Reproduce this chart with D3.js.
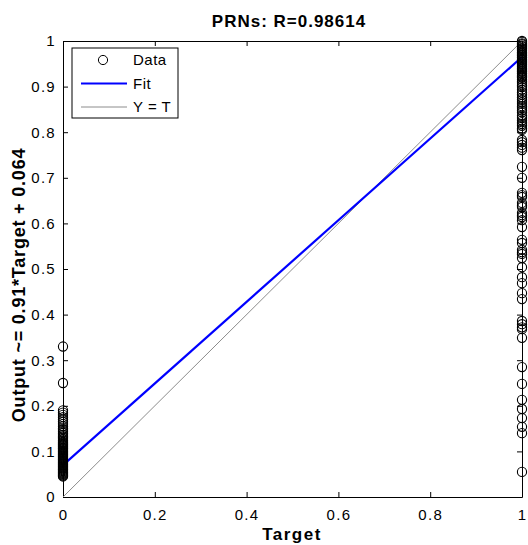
<!DOCTYPE html>
<html>
<head>
<meta charset="utf-8">
<script src="https://cdn.jsdelivr.net/npm/d3@7"></script>
<style>
  body { margin: 0; background: #fff; }
  text { font-family: Arial, "Liberation Sans", sans-serif; }
</style>
</head>
<body>
<div id="chart"></div>
<script>
// outputs where target = 0
const outputsAtZero = [0.33, 0.25, 0.19, 0.185, 0.18, 0.175, 0.17, 0.165, 0.16, 0.155, 0.15, 0.147,
  0.143, 0.14, 0.136, 0.133, 0.13, 0.127, 0.124, 0.121, 0.119, 0.117, 0.115, 0.113, 0.111, 0.109,
  0.107, 0.105, 0.103, 0.101, 0.099, 0.097, 0.095, 0.093, 0.091, 0.089, 0.087, 0.085, 0.083, 0.081,
  0.079, 0.077, 0.075, 0.073, 0.071, 0.069, 0.067, 0.065, 0.063, 0.061, 0.059, 0.057, 0.055, 0.053,
  0.051, 0.049, 0.047, 0.045];
// outputs where target = 1
const outputsAtOne = [1.0, 0.998, 0.995, 0.993, 0.99, 0.988, 0.985, 0.983, 0.98, 0.978, 0.975,
  0.973, 0.97, 0.968, 0.965, 0.963, 0.96, 0.958, 0.955, 0.953, 0.95, 0.948, 0.945, 0.943, 0.94,
  0.938, 0.935, 0.933, 0.93, 0.928, 0.925, 0.922, 0.92, 0.916, 0.912, 0.908, 0.903, 0.899, 0.893,
  0.887, 0.882, 0.876, 0.871, 0.866, 0.862, 0.857, 0.853, 0.848, 0.844, 0.836, 0.831, 0.826, 0.822,
  0.818, 0.814, 0.808, 0.805, 0.783, 0.778, 0.772, 0.766, 0.761, 0.724, 0.7, 0.667, 0.662, 0.658,
  0.645, 0.64, 0.636, 0.623, 0.618, 0.614, 0.607, 0.592, 0.564, 0.557, 0.542, 0.537, 0.533, 0.524,
  0.504, 0.482, 0.469, 0.447, 0.434, 0.386, 0.379, 0.372, 0.368, 0.349, 0.285, 0.248, 0.213,
  0.193, 0.173, 0.154, 0.14, 0.055];
const fitIntercept = 0.07;
const fitSlope = 0.895;
const xTicks = [0, 0.2, 0.4, 0.6, 0.8, 1];
const xTickLabels = ["0", "0.2", "0.4", "0.6", "0.8", "1"];
const yTicks = [0, 0.1, 0.2, 0.3, 0.4, 0.5, 0.6, 0.7, 0.8, 0.9, 1];
const yTickLabels = ["0", "0.1", "0.2", "0.3", "0.4", "0.5", "0.6", "0.7", "0.8", "0.9", "1"];
const legendItems = ["Data", "Fit", "Y = T"];

const width = 528, height = 545;
const margin = { top: 41, right: 6, bottom: 48, left: 63 };

const svg = d3.select("#chart").append("svg")
  .attr("width", width)
  .attr("height", height);

const x = d3.scaleLinear().domain([0, 1]).range([margin.left, width - margin.right]);
const y = d3.scaleLinear().domain([0, 1]).range([height - margin.bottom, margin.top]);

// axes, ticks point inward like matlab
const bottomAxis = d3.axisBottom(x).tickValues(xTicks)
  .tickFormat((d, i) => xTickLabels[i]).tickSizeInner(-5).tickSizeOuter(0).tickPadding(12);
const leftAxis = d3.axisLeft(y).tickValues(yTicks)
  .tickFormat((d, i) => yTickLabels[i]).tickSizeInner(-5).tickSizeOuter(0).tickPadding(7);

svg.append("g").attr("transform", `translate(0,${y(0)})`).call(bottomAxis);
svg.append("g").attr("transform", `translate(${x(0)},0)`).call(leftAxis);
svg.append("g").attr("transform", `translate(0,${y(1)})`)
  .call(d3.axisTop(x).tickValues(xTicks).tickFormat("").tickSizeInner(-5).tickSizeOuter(0));
svg.append("g").attr("transform", `translate(${x(1)},0)`)
  .call(d3.axisRight(y).tickValues(yTicks).tickFormat("").tickSizeInner(-5).tickSizeOuter(0));

svg.selectAll(".domain, .tick line").attr("stroke", "#000");
svg.selectAll(".tick text").attr("font-size", 15).attr("fill", "#000")
  .attr("letter-spacing", 1.3);

// Y = T line
svg.append("line")
  .attr("x1", x(0)).attr("y1", y(0)).attr("x2", x(1)).attr("y2", y(1))
  .attr("stroke", "#8c8c8c").attr("stroke-width", 1);

// fit line
svg.append("line")
  .attr("x1", x(0)).attr("y1", y(fitIntercept))
  .attr("x2", x(1)).attr("y2", y(fitIntercept + fitSlope))
  .attr("stroke", "#0000ff").attr("stroke-width", 2.2);

// data circles
const points = outputsAtZero.map(v => ({ t: 0, o: v }))
  .concat(outputsAtOne.map(v => ({ t: 1, o: v })));

svg.append("g").selectAll("circle")
  .data(points)
  .join("circle")
  .attr("cx", d => x(d.t))
  .attr("cy", d => y(d.o))
  .attr("r", 4.6)
  .attr("fill", "none")
  .attr("stroke", "#000")
  .attr("stroke-width", 1.1);

// title and labels
svg.append("text")
  .attr("x", 289).attr("y", 27)
  .attr("text-anchor", "middle")
  .attr("font-size", 17).attr("font-weight", "bold")
  .attr("letter-spacing", 1)
  .text("PRNs: R=0.98614");

svg.append("text")
  .attr("x", 292).attr("y", 540)
  .attr("text-anchor", "middle")
  .attr("font-size", 17).attr("font-weight", "bold")
  .attr("letter-spacing", 1.5)
  .text("Target");

svg.append("text")
  .attr("transform", `translate(25,${y(0.465)}) rotate(-90)`)
  .attr("text-anchor", "middle")
  .attr("font-size", 18).attr("font-weight", "bold")
  .attr("letter-spacing", 0.8)
  .text("Output ~= 0.91*Target + 0.064");

// legend
const legend = svg.append("g").attr("transform", "translate(72,48)");
legend.append("rect")
  .attr("width", 106).attr("height", 70)
  .attr("fill", "#fff").attr("stroke", "#000");

legendItems.forEach((name, i) => {
  const ly = 12 + i * 23.5;
  if (i === 0) {
    legend.append("circle").attr("cx", 31).attr("cy", ly).attr("r", 4.6)
      .attr("fill", "none").attr("stroke", "#000");
  } else {
    legend.append("line").attr("x1", 9).attr("x2", 55).attr("y1", ly).attr("y2", ly)
      .attr("stroke", i === 1 ? "#0000ff" : "#8c8c8c")
      .attr("stroke-width", i === 1 ? 2.2 : 1);
  }
  legend.append("text")
    .attr("x", 61).attr("y", ly).attr("dy", "0.35em")
    .attr("font-size", 15).attr("letter-spacing", 0.5)
    .text(name);
});
</script>
</body>
</html>
